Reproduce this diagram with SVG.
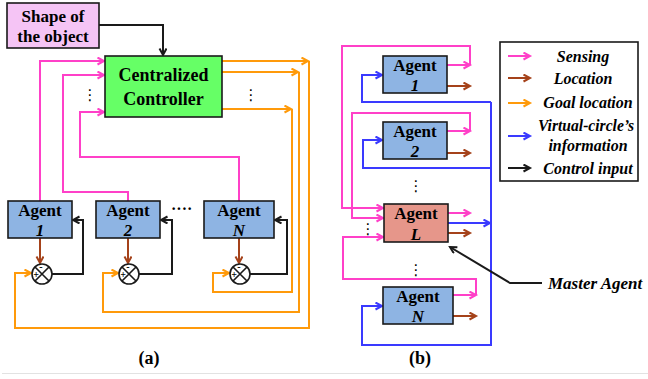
<svg xmlns="http://www.w3.org/2000/svg" width="648" height="379" viewBox="0 0 648 379">
<defs>
<style>
.t{font-family:"Liberation Serif","Times New Roman",serif;font-weight:bold;fill:#000}
.i{font-style:italic}
.m{text-anchor:middle}
.box{stroke:#1a1a1a;stroke-width:1.6}
.ag{fill:#8EB4E3}
.c{fill:none;stroke-width:2;stroke-linejoin:miter}
.mg{stroke:#FF40C8}
.br{stroke:#A5421A}
.or{stroke:#FF9A0A}
.bl{stroke:#3A3AFF}
.bk{stroke:#1a1a1a}
.dot{font-family:"DejaVu Sans",sans-serif;font-size:15px;fill:#000;text-anchor:middle}
</style>
<marker id="aM" markerWidth="10" markerHeight="10" refX="7.5" refY="4" orient="auto" markerUnits="userSpaceOnUse"><path d="M1,0.5 L7.5,4 L1,7.5" fill="none" stroke="#FF40C8" stroke-width="2"/></marker>
<marker id="aB" markerWidth="10" markerHeight="10" refX="7.5" refY="4" orient="auto" markerUnits="userSpaceOnUse"><path d="M1,0.5 L7.5,4 L1,7.5" fill="none" stroke="#A5421A" stroke-width="2"/></marker>
<marker id="aO" markerWidth="10" markerHeight="10" refX="7.5" refY="4" orient="auto" markerUnits="userSpaceOnUse"><path d="M1,0.5 L7.5,4 L1,7.5" fill="none" stroke="#FF9A0A" stroke-width="2"/></marker>
<marker id="aL" markerWidth="10" markerHeight="10" refX="7.5" refY="4" orient="auto" markerUnits="userSpaceOnUse"><path d="M1,0.5 L7.5,4 L1,7.5" fill="none" stroke="#3A3AFF" stroke-width="2"/></marker>
<marker id="aK" markerWidth="10" markerHeight="10" refX="7.5" refY="4" orient="auto" markerUnits="userSpaceOnUse"><path d="M1,0.5 L7.5,4 L1,7.5" fill="none" stroke="#1a1a1a" stroke-width="2"/></marker>
</defs>
<rect width="648" height="379" fill="#fff"/>
<line x1="2" y1="373.5" x2="648" y2="373.5" stroke="#e2e2e2" stroke-width="1"/>

<g id="connectors">
<!-- panel (a) -->
<path class="c bk" d="M99,25 H163 V55" marker-end="url(#aK)"/>
<path class="c mg" d="M40,201 V61 H104" marker-end="url(#aM)"/>
<path class="c mg" d="M128,201 V192 H63 V75 H104" marker-end="url(#aM)"/>
<path class="c mg" d="M239,201 V157 H80 V112 H104" marker-end="url(#aM)"/>
<path class="c or" d="M222,61 H308" marker-end="url(#aO)"/>
<path class="c or" d="M222,72 H298" marker-end="url(#aO)"/>
<path class="c or" d="M222,109 H291" marker-end="url(#aO)"/>
<path class="c or" d="M309,61 V328 H15 V273 H31" marker-end="url(#aO)"/>
<path class="c or" d="M299,72 V312 H103 V273 H118" marker-end="url(#aO)"/>
<path class="c or" d="M292,109 V292 H213 V273 H229" marker-end="url(#aO)"/>
<path class="c br" d="M40,238 V263" marker-end="url(#aB)"/>
<path class="c br" d="M128,238 V263" marker-end="url(#aB)"/>
<path class="c br" d="M239,238 V263" marker-end="url(#aB)"/>
<path class="c bk" d="M52,274 H83 V220 H73" marker-end="url(#aK)"/>
<path class="c bk" d="M139,274 H172 V220 H161" marker-end="url(#aK)"/>
<path class="c bk" d="M250,274 H287 V220 H275" marker-end="url(#aK)"/>
<!-- panel (b) -->
<path class="c mg" d="M447,65 H470" marker-end="url(#aM)"/>
<path class="c mg" d="M470,65 V46 H342 V208 H383" marker-end="url(#aM)"/>
<path class="c br" d="M447,86 H470" marker-end="url(#aB)"/>
<path class="c bl" d="M491,102 H362 V75 H382" marker-end="url(#aL)"/>
<path class="c mg" d="M447,131 H470" marker-end="url(#aM)"/>
<path class="c mg" d="M470,131 V113 H352 V218 H383" marker-end="url(#aM)"/>
<path class="c br" d="M447,153 H470" marker-end="url(#aB)"/>
<path class="c bl" d="M491,168 H363 V140 H382" marker-end="url(#aL)"/>
<path class="c mg" d="M448,213 H470" marker-end="url(#aM)"/>
<path class="c bl" d="M448,223 H490" marker-end="url(#aL)"/>
<path class="c br" d="M448,233 H470" marker-end="url(#aB)"/>
<path class="c mg" d="M453,295 H476" marker-end="url(#aM)"/>
<path class="c mg" d="M476,295 V279 H343 V237 H383" marker-end="url(#aM)"/>
<path class="c br" d="M453,316 H476" marker-end="url(#aB)"/>
<path class="c bl" d="M491,102 V345 H362 V306 H382" marker-end="url(#aL)"/>
<path class="c bk" stroke-width="1.6" d="M542,283 H510 L450,247" marker-end="url(#aK)"/>
</g>

<g id="shape">
<rect class="box" x="7" y="3" width="92" height="45" fill="#F5C4F5"/>
<text class="t m" x="53" y="22" font-size="17">Shape of</text>
<text class="t m" x="53" y="42" font-size="17">the object</text>
</g>

<g id="controller">
<rect class="box" x="105" y="56" width="117" height="61" fill="#66FF66"/>
<text class="t m" x="163.5" y="81" font-size="18">Centralized</text>
<text class="t m" x="163.5" y="105" font-size="18">Controller</text>
</g>
<text class="dot" x="90" y="100">⋮</text>
<text class="dot" x="251" y="100">⋮</text>

<g id="agent-a1">
<rect class="box ag" x="8" y="201" width="64" height="37"/>
<text class="t m" x="40" y="216" font-size="17">Agent</text>
<text class="t i m" x="40" y="236" font-size="17">1</text>
</g>
<g id="agent-a2">
<rect class="box ag" x="96" y="201" width="64" height="37"/>
<text class="t m" x="128" y="216" font-size="17">Agent</text>
<text class="t i m" x="128" y="236" font-size="17">2</text>
</g>
<text class="t" x="171" y="214" font-size="16">····</text>
<g id="agent-aN">
<rect class="box ag" x="204" y="201" width="70" height="37"/>
<text class="t m" x="239" y="216" font-size="17">Agent</text>
<text class="t i m" x="239" y="236" font-size="17">N</text>
</g>

<g id="sum1">
<circle cx="42" cy="274" r="10" fill="#fff" stroke="#1a1a1a" stroke-width="1.6"/>
<path d="M35,267 L49,281 M49,267 L35,281" stroke="#1a1a1a" stroke-width="1.6"/>
<text class="t m" x="36" y="278" font-size="10">+</text>
<text class="t m" x="41" y="270" font-size="10">-</text>
</g>
<g id="sum2">
<circle cx="129" cy="274" r="10" fill="#fff" stroke="#1a1a1a" stroke-width="1.6"/>
<path d="M122,267 L136,281 M136,267 L122,281" stroke="#1a1a1a" stroke-width="1.6"/>
<text class="t m" x="123" y="278" font-size="10">+</text>
<text class="t m" x="128" y="270" font-size="10">-</text>
</g>
<g id="sumN">
<circle cx="240" cy="274" r="10" fill="#fff" stroke="#1a1a1a" stroke-width="1.6"/>
<path d="M233,267 L247,281 M247,267 L233,281" stroke="#1a1a1a" stroke-width="1.6"/>
<text class="t m" x="234" y="278" font-size="10">+</text>
<text class="t m" x="239" y="270" font-size="10">-</text>
</g>
<text class="t m" x="149" y="364" font-size="18">(a)</text>

<g id="agent-b1">
<rect class="box ag" x="383" y="56" width="64" height="37"/>
<text class="t m" x="415" y="71" font-size="17">Agent</text>
<text class="t i m" x="415" y="91" font-size="17">1</text>
</g>
<g id="agent-b2">
<rect class="box ag" x="383" y="122" width="64" height="37"/>
<text class="t m" x="415" y="137" font-size="17">Agent</text>
<text class="t i m" x="415" y="157" font-size="17">2</text>
</g>
<text class="dot" x="416" y="191">⋮</text>
<g id="agent-bL">
<rect class="box" x="384" y="204" width="64" height="38" fill="#E6968A"/>
<text class="t m" x="416" y="219" font-size="17">Agent</text>
<text class="t i m" x="416" y="240" font-size="17">L</text>
</g>
<text class="dot" x="368" y="234">⋮</text>
<text class="dot" x="416" y="275">⋮</text>
<g id="agent-bN">
<rect class="box ag" x="383" y="287" width="70" height="37"/>
<text class="t m" x="418" y="302" font-size="17">Agent</text>
<text class="t i m" x="418" y="322" font-size="17">N</text>
</g>
<text class="t i" x="548" y="289" font-size="17">Master Agent</text>
<text class="t m" x="420" y="364" font-size="18">(b)</text>

<g id="legend">
<rect x="500" y="42" width="138" height="139" fill="#fff" stroke="#1a1a1a" stroke-width="1.6"/>
<path class="c mg" d="M508,56 H530" marker-end="url(#aM)"/>
<path class="c br" d="M508,78 H530" marker-end="url(#aB)"/>
<path class="c or" d="M508,103 H530" marker-end="url(#aO)"/>
<path class="c bl" d="M508,136 H530" marker-end="url(#aL)"/>
<path class="c bk" d="M508,168 H530" marker-end="url(#aK)"/>
<text class="t i m" x="583" y="62" font-size="16">Sensing</text>
<text class="t i m" x="583" y="84" font-size="16">Location</text>
<text class="t i m" x="588" y="108" font-size="16">Goal location</text>
<text class="t i m" x="586" y="131" font-size="16" textLength="96" lengthAdjust="spacingAndGlyphs">Virtual-circle’s</text>
<text class="t i m" x="588" y="151" font-size="16">information</text>
<text class="t i m" x="588" y="174" font-size="16">Control input</text>
</g>
</svg>
